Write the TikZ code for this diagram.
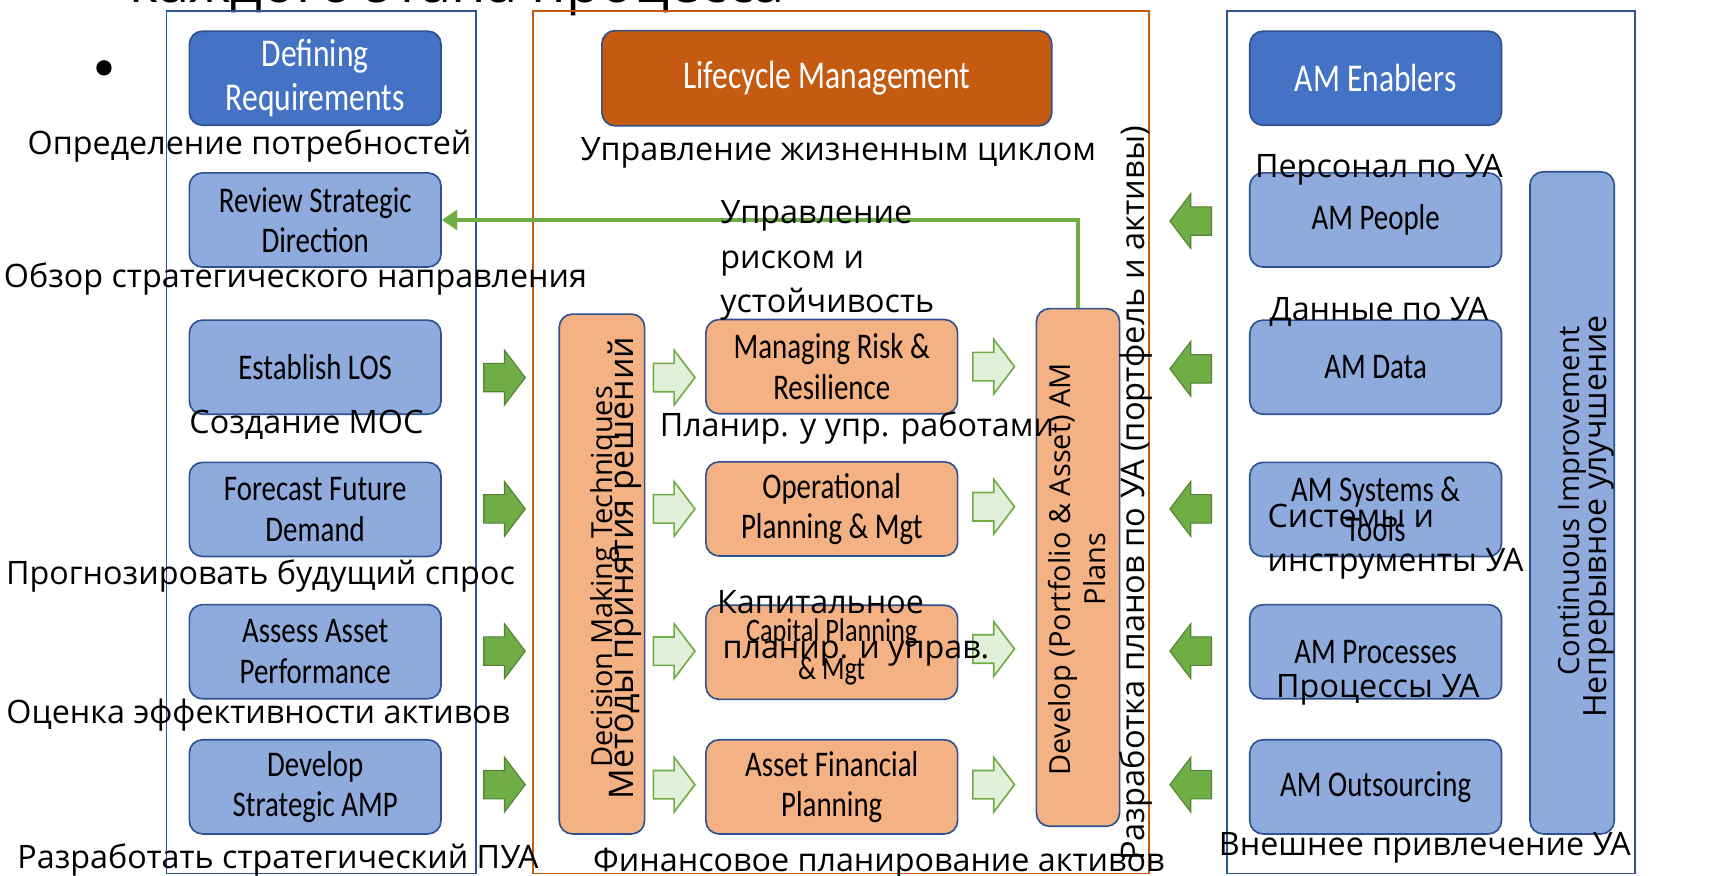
\documentclass[tikz,border=0pt]{standalone}
\usepackage{fontspec}
\setmainfont{Open Sans}
\newfontfamily\calfont[FakeStretch=0.8]{Carlito}
\usetikzlibrary{arrows.meta}
\definecolor{dblue}{HTML}{4472C4}
\definecolor{lblue}{HTML}{8FAADC}
\definecolor{bborder}{HTML}{2F528F}
\definecolor{frameblue}{HTML}{2F5597}
\definecolor{dorange}{HTML}{C55A11}
\definecolor{lorange}{HTML}{F4B183}
\definecolor{grn}{HTML}{70AD47}
\definecolor{grndark}{HTML}{548235}
\definecolor{lgrn}{HTML}{E2F0D9}
\begin{document}
\begin{tikzpicture}[x=1pt,y=-1pt,
  frameB/.style={draw=frameblue,line width=1.5pt},
  frameO/.style={draw=dorange,line width=1.5pt},
  box/.style={draw=bborder,line width=1.5pt,rounded corners=12pt,align=center,inner sep=0pt,
    minimum width=230pt,minimum height=86pt,font=\calfont\fontsize{33}{37}\selectfont},
  darkbox/.style={box,fill=dblue,text=white,font=\calfont\fontsize{36}{40}\selectfont},
  lightbox/.style={box,fill=lblue},
  obox/.style={box,fill=lorange},
  ru/.style={inner sep=0pt,font=\fontsize{29.5}{41}\selectfont},
  vt/.style={inner sep=0pt,rotate=90,align=center},
  solidarr/.style={fill=grn,draw=grndark,line width=1pt},
  lightarr/.style={fill=lgrn,draw=grn,line width=1.5pt},
  conn/.style={draw=grn,line width=4pt,-{Triangle[length=14pt,width=18pt]}},
  pics/blockarrow/.style={code={\path[pic actions] (-19,-13) -- (0,-13) -- (0,-25) -- (19,0) -- (0,25) -- (0,13) -- (-19,13) -- cycle;}}
]
\useasboundingbox (0,0) rectangle (1568,800);
\clip (0,0) rectangle (1568,800);
\fill[white] (0,0) rectangle (1568,800);

% cut-off title and bullet
\node[anchor=base west,inner sep=0pt,font=\fontsize{51}{55}\selectfont] (title) at (118,2.5) {каждого этапа процесса};
\node[circle,fill=black,minimum size=14pt,inner sep=0pt] (bullet) at (95,62) {};

% frames
\draw[frameB] (152,10) rectangle (435,798);
\draw[frameO] (487,10) rectangle (1050,798);
\draw[frameB] (1121,10) rectangle (1494,798);

% left column
\node[darkbox] (defreq) at (288,71.5) {Defining\\Requirements};
\node[lightbox] (rev) at (288,201) {Review Strategic\\Direction};
\node[lightbox] (los) at (288,335.5) {Establish LOS};
\node[lightbox] (fcst) at (288,465.5) {Forecast Future\\Demand};
\node[lightbox] (assess) at (288,595.5) {Assess Asset\\Performance};
\node[lightbox] (samp) at (288,719) {Develop\\Strategic AMP};

% middle column
\node[box,fill=dorange,text=white,minimum width=411pt,minimum height=87pt,font=\calfont\fontsize{36}{40}\selectfont] (life) at (755.5,71.5) {Lifecycle Management};
\node[obox,minimum width=78pt,minimum height=475pt] (dec) at (550,524.5) {};
\node[obox] (risk) at (760,335) {Managing Risk \&\\Resilience};
\node[obox] (oper) at (760,465) {Operational\\Planning \& Mgt};
\node[obox,font=\calfont\fontsize{30}{35}\selectfont] (cap) at (760,596) {Capital Planning\\\& Mgt};
\node[obox] (fin) at (760,719) {Asset Financial\\Planning};
\node[obox,minimum width=76pt,minimum height=473pt] (dev) at (985,518.5) {};

% right column
\node[darkbox] (enab) at (1257,71.5) {AM Enablers};
\node[lightbox] (people) at (1257,201) {AM People};
\node[lightbox] (data) at (1257,335.5) {AM Data};
\node[lightbox] (sys) at (1257,465.5) {AM Systems \&\\Tools};
\node[lightbox] (proc) at (1257,595.5) {AM Processes};
\node[lightbox] (outs) at (1257,719) {AM Outsourcing};
\node[lightbox,minimum width=77pt,minimum height=605pt] (ci) at (1436.5,459.5) {};

% vertical texts
\node[vt,font=\fontsize{26.5}{30}\selectfont] (dect) at (553,527) {Decision Making Techniques};
\node[vt,font=\fontsize{31}{35}\selectfont] (decr) at (571,519) {Методы принятия решений};
\node[vt,font=\fontsize{26.5}{32}\selectfont] (devt) at (984,520) {Develop (Portfolio \& Asset) AM\\Plans};
\node[vt,font=\fontsize{26.7}{30}\selectfont] (cit) at (1437,458) {Continuous Improvement};
\node[vt,font=\fontsize{29.3}{33}\selectfont] (cir) at (1461,472) {Непрерывное улучшение};
\node[vt,font=\fontsize{29.8}{33}\selectfont] (devr) at (1038,451) {Разработка планов по УА (портфель и активы)};

% arrows
\foreach \y [count=\i] in {345,465,595,717}{
  \pic[solidarr] (sa\i) at (461,\y) {blockarrow};
  \pic[lightarr] (la\i) at (616,\y) {blockarrow};
}
\foreach \y [count=\i] in {335,463,593,717}{
  \pic[lightarr] (lb\i) at (908,\y) {blockarrow};
}
\foreach \y [count=\i] in {202,337,465,595,717}{
  \pic[solidarr,rotate=180] (ra\i) at (1088,\y) {blockarrow};
}

% feedback connector
\draw[conn] (dev.north) |- (rev.east);

% russian labels
\node[ru] (l1) at (228,133) {Определение потребностей};
\node[ru] (l2) at (270,255) {Обзор стратегического направления};
\node[ru] (l3) at (280,388) {Создание МОС};
\node[ru] (l4) at (238,526) {Прогнозировать будущий спрос};
\node[ru] (l5) at (236,653) {Оценка эффективности активов};
\node[ru] (l6) at (254,786) {Разработать стратегический ПУА};
\node[ru] (m1) at (766,140) {Управление жизненным циклом};
\node[ru,align=left,anchor=west] (m2) at (658,238) {Управление\\риском и\\устойчивость};
\node[ru] (m3) at (783,391) {Планир. у упр. работами};
\node[ru,align=left,anchor=west] (m4) at (655,574) {Капитальное\\\hspace*{5pt}планир. и управ.};
\node[ru] (m5) at (803,789) {Финансовое планирование активов};
\node[ru] (r1) at (1260,155) {Персонал по УА};
\node[ru] (r2) at (1260,285) {Данные по УА};
\node[ru,align=left,anchor=west] (r3) at (1158,495) {Системы и\\инструменты УА};
\node[ru] (r4) at (1259,630) {Процессы УА};
\node[ru] (r5) at (1302,775) {Внешнее привлечение УА};
\end{tikzpicture}
\end{document}
